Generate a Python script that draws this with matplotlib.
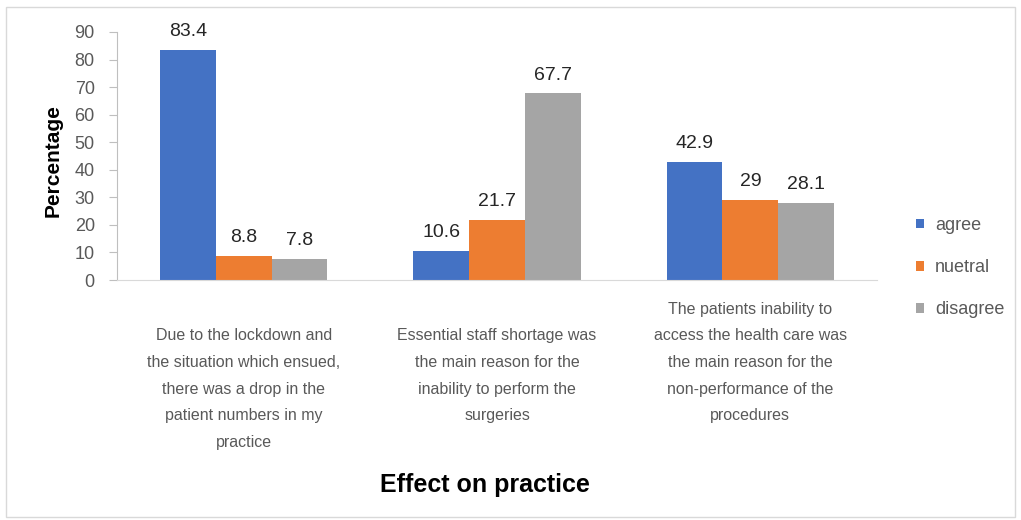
import matplotlib.pyplot as plt
import numpy as np
from matplotlib.patches import Rectangle

categories = [
    "Due to the lockdown and\nthe situation which ensued,\nthere was a drop in the\npatient numbers in my\npractice",
    "Essential staff shortage was\nthe main reason for the\ninability to perform the\nsurgeries",
    "The patients inability to\naccess the health care was\nthe main reason for the\nnon-performance of the\nprocedures",
]
series_names = ["agree", "nuetral", "disagree"]
agree = [83.4, 10.6, 42.9]
neutral = [8.8, 21.7, 29]
disagree = [7.8, 67.7, 28.1]
yticks = list(range(0, 91, 10))

colors = ["#4472C4", "#ED7D31", "#A5A5A5"]
grey_text = "#595959"
narrow = ["Liberation Sans Narrow", "Liberation Sans", "DejaVu Sans"]
regular = ["Liberation Sans", "DejaVu Sans"]
plt.rcParams["font.family"] = narrow

fig = plt.figure(figsize=(10.21, 5.2), dpi=100)
ax = fig.add_axes([0.1146, 0.4615, 0.7444, 0.477])

# light frame round the whole chart, like the Excel chart area
fig.patches.append(Rectangle((0.006, 0.006), 0.988, 0.98, transform=fig.transFigure,
                             fill=False, edgecolor="#d9d9d9", linewidth=1))

x = np.arange(len(categories))
width = 0.22
for i, (vals, name) in enumerate(zip([agree, neutral, disagree], series_names)):
    bars = ax.bar(x + (i - 1) * width, vals, width, color=colors[i], label=name)
    for b, v in zip(bars, vals):
        ax.annotate(f"{v:g}", (b.get_x() + b.get_width() / 2, v), xytext=(0, 7),
                    textcoords="offset points", ha="center", va="bottom",
                    fontsize=14, color="#262626", family=regular)

ax.set_xlim(-0.5, 2.5)
ax.set_ylim(0, 90)
ax.set_yticks(yticks)
ax.tick_params(axis="y", labelsize=13, labelcolor=grey_text, color="#bfbfbf",
               length=6, pad=10)
for t in ax.get_yticklabels():
    t.set_family(regular)
ax.set_xticks([])
for s in ["top", "right"]:
    ax.spines[s].set_visible(False)
ax.spines["left"].set_color("#bfbfbf")
ax.spines["bottom"].set_color("#d9d9d9")

# category labels sit under the axis, like Excel's wrapped labels
tops = [-0.195, -0.195, -0.088]
for xi, lab, t in zip(x, categories, tops):
    ax.text(xi, t, lab, transform=ax.get_xaxis_transform(), ha="center", va="top",
            fontsize=11.5, color=grey_text, linespacing=1.97)

ax.set_ylabel("Percentage", fontsize=15, fontweight="bold")
ax.yaxis.set_label_coords(-0.071, 0.48)
fig.text(0.475, 0.067, "Effect on practice", ha="center", va="center",
         fontsize=18, fontweight="bold", color="black")

ax.legend(loc="center left", bbox_to_anchor=(1.03, 0.05), frameon=False,
          fontsize=13, labelcolor=grey_text, handlelength=0.45, handleheight=0.45,
          labelspacing=1.4, handletextpad=0.6)

fig.savefig("out.png", dpi=100)
